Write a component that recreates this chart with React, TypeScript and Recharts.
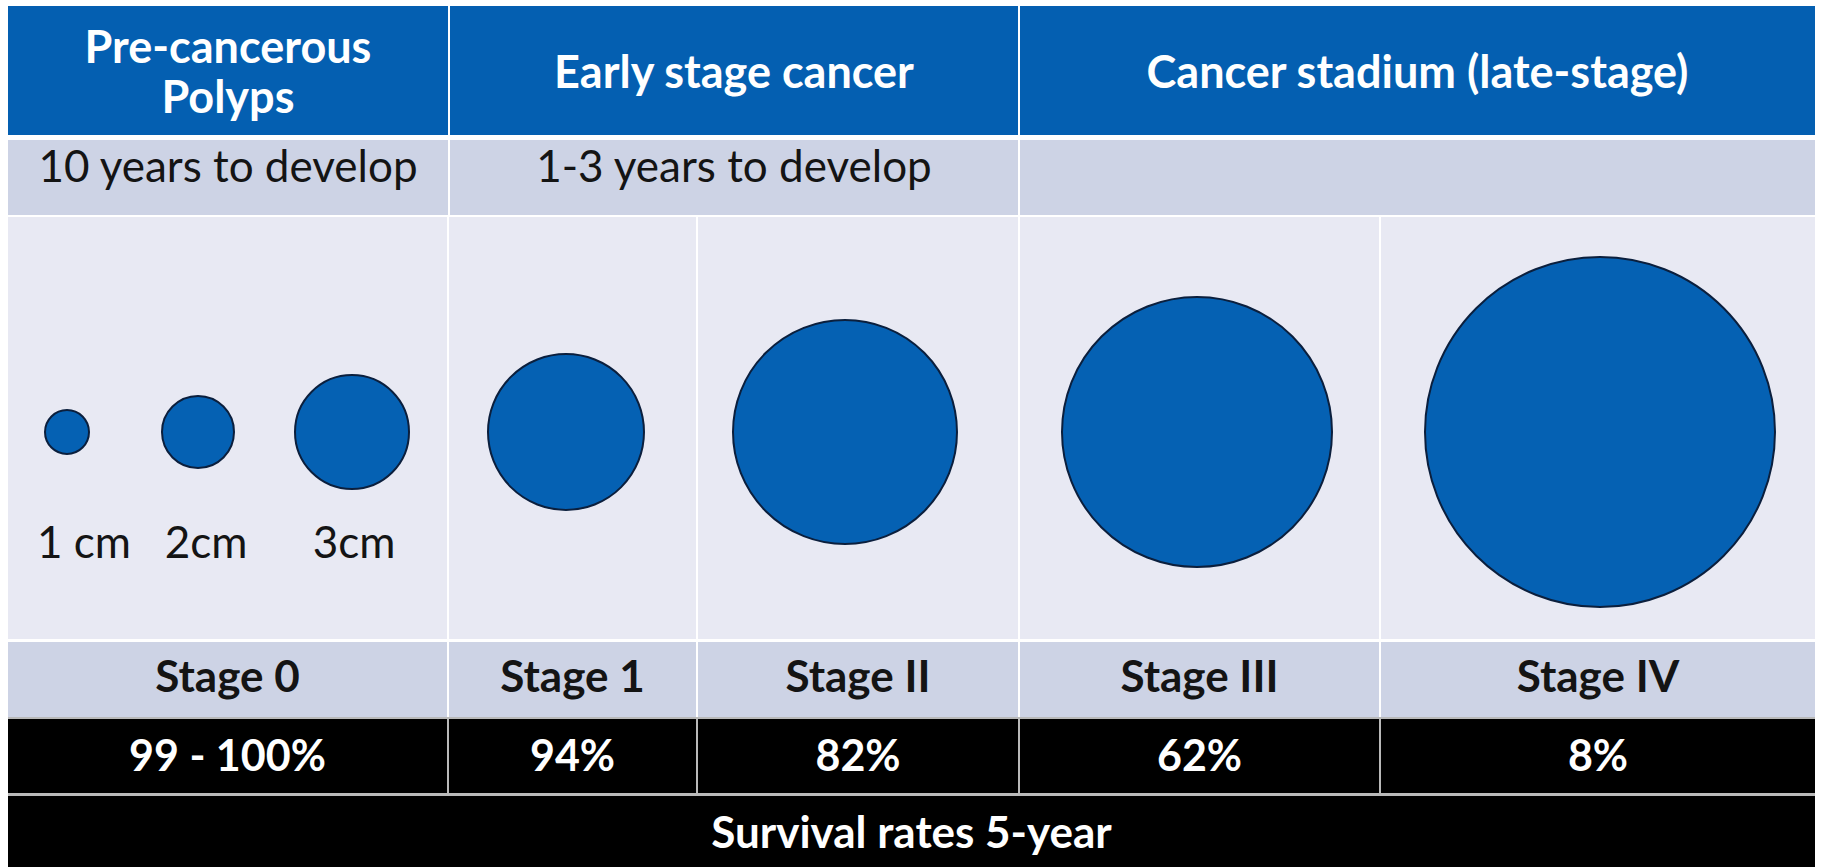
import React from 'react';
import { ScatterChart, Scatter, XAxis, YAxis, ZAxis, ReferenceArea } from 'recharts';

const W = 1823;
const H = 867;

// ---------- data ----------
const groupTitles: string[][] = [['Pre-cancerous', 'Polyps'], ['Early stage cancer'], ['Cancer stadium (late-stage)']];
const developTimes = ['10 years to develop', '1-3 years to develop', ''];
const stageNames = ['Stage 0', 'Stage 1', 'Stage II', 'Stage III', 'Stage IV'];
const survivalRates = ['99 - 100%', '94%', '82%', '62%', '8%'];
const footerTitle = 'Survival rates 5-year';

const tumorNames = ['1 cm', '2cm', '3cm', 'Stage 1', 'Stage II', 'Stage III', 'Stage IV'];
const tumorX = [67, 198, 352, 566, 845, 1197, 1600];
const tumorRadius = [22, 36, 57, 78, 112, 135, 175];
const polypSizeLabels = ['1 cm', '2cm', '3cm'];
const polypSizeLabelX = [84, 206, 354];

// ---------- layout ----------
const groupEdges = [8, 449, 1019, 1815];
const stageEdges = [8, 448, 697, 1019, 1380, 1815];
const rowHeader = [6, 135];
const rowDevelop = [140, 215];
const rowCircles = [217, 639];
const rowStage = [642, 717];
const rowRate = [719, 793];
const rowFooter = [796, 867];
const circleRowY = 432;
const sizeLabelY = 558;

const HEADER_BLUE = '#045FB1';
const LIGHT_ROW = '#CDD3E5';
const PALE_ROW = '#E8E9F3';
const CIRCLE_FILL = '#0561B3';
const CIRCLE_STROKE = '#0B1F3D';
const FONT = 'Lato, "Open Sans", sans-serif';

const cells = (edges: number[]) =>
  edges.slice(0, -1).map((e, i) => [i === 0 ? e : e + 1, i === edges.length - 2 ? edges[i + 1] : edges[i + 1] - 1]);

const makeLabel = (
  lines: string[],
  offsets: number[],
  box: { x1: number; x2: number; y1: number },
  style: { fill: string; size: number; weight: number }
) => (props: any) => {
  const vb = props && props.viewBox && typeof props.viewBox.x === 'number' ? props.viewBox : null;
  const x = vb ? vb.x + vb.width / 2 : (box.x1 + box.x2) / 2;
  const top = vb ? vb.y : box.y1;
  return (
    <text textAnchor="middle" fill={style.fill} fontSize={style.size} fontWeight={style.weight} fontFamily={FONT}>
      {lines.map((l, i) => (
        <tspan key={i} x={x} y={top + offsets[i]}>
          {l}
        </tspan>
      ))}
    </text>
  );
};

const tumorData = tumorNames.map((name, i) => ({ name, x: tumorX[i], y: circleRowY, r: tumorRadius[i] }));
const sizeLabelData = polypSizeLabels.map((label, i) => ({ label, x: polypSizeLabelX[i], y: sizeLabelY, r: 0 }));

const TumorShape = (p: any) => {
  const r = typeof p.size === 'number' ? p.size : p.payload.r;
  return <circle cx={p.cx} cy={p.cy} r={r} fill={CIRCLE_FILL} stroke={CIRCLE_STROKE} strokeWidth={2} />;
};

const SizeLabelShape = (p: any) => (
  <text x={p.cx} y={p.cy} textAnchor="middle" fill="#141414" fontSize={44} fontFamily={FONT}>
    {p.payload.label}
  </text>
);

export default function App() {
  const groupCells = cells(groupEdges);
  const stageCells = cells(stageEdges);
  return (
    <div style={{ width: W, height: H, background: '#fff' }}>
      <style>{'body{margin:0;background:#fff}'}</style>
      <ScatterChart width={W} height={H} margin={{ top: 0, right: 0, bottom: 0, left: 0 }}>
        <XAxis type="number" dataKey="x" domain={[0, W]} allowDataOverflow hide />
        <YAxis type="number" dataKey="y" domain={[0, H]} allowDataOverflow reversed hide />
        <ZAxis type="number" dataKey="r" domain={[0, 200]} range={[0, 200]} />

        {groupCells.map(([x1, x2], i) => (
          <ReferenceArea
            key={'h' + i}
            x1={x1}
            x2={x2}
            y1={rowHeader[0]}
            y2={rowHeader[1]}
            fill={HEADER_BLUE}
            fillOpacity={1}
            label={makeLabel(
              groupTitles[i],
              groupTitles[i].length > 1 ? [57, 107] : [82],
              { x1, x2, y1: rowHeader[0] },
              { fill: '#ffffff', size: 45, weight: 700 }
            )}
          />
        ))}
        {groupCells.map(([x1, x2], i) => (
          <ReferenceArea
            key={'d' + i}
            x1={x1}
            x2={x2}
            y1={rowDevelop[0]}
            y2={rowDevelop[1]}
            fill={LIGHT_ROW}
            fillOpacity={1}
            label={makeLabel([developTimes[i]], [42], { x1, x2, y1: rowDevelop[0] }, { fill: '#141414', size: 44, weight: 400 })}
          />
        ))}
        {stageCells.map(([x1, x2], i) => (
          <ReferenceArea key={'c' + i} x1={x1} x2={x2} y1={rowCircles[0]} y2={rowCircles[1]} fill={PALE_ROW} fillOpacity={1} />
        ))}
        {stageCells.map(([x1, x2], i) => (
          <ReferenceArea
            key={'s' + i}
            x1={x1}
            x2={x2}
            y1={rowStage[0]}
            y2={rowStage[1]}
            fill={LIGHT_ROW}
            fillOpacity={1}
            label={makeLabel([stageNames[i]], [50], { x1, x2, y1: rowStage[0] }, { fill: '#141414', size: 44, weight: 700 })}
          />
        ))}
        <ReferenceArea x1={stageEdges[0]} x2={stageEdges[5]} y1={rowStage[1]} y2={rowFooter[1]} fill="#b9b9b9" fillOpacity={1} />
        {stageCells.map(([x1, x2], i) => (
          <ReferenceArea
            key={'p' + i}
            x1={x1}
            x2={x2}
            y1={rowRate[0]}
            y2={rowRate[1]}
            fill="#000000"
            fillOpacity={1}
            label={makeLabel([survivalRates[i]], [52], { x1, x2, y1: rowRate[0] }, { fill: '#ffffff', size: 43, weight: 700 })}
          />
        ))}
        <ReferenceArea
          x1={stageEdges[0]}
          x2={stageEdges[5]}
          y1={rowFooter[0]}
          y2={rowFooter[1]}
          fill="#000000"
          fillOpacity={1}
          label={makeLabel([footerTitle], [52], { x1: stageEdges[0], x2: stageEdges[5], y1: rowFooter[0] }, { fill: '#ffffff', size: 44, weight: 700 })}
        />

        <Scatter name="Tumour size" data={tumorData} shape={TumorShape} isAnimationActive={false} />
        <Scatter name="Polyp size" data={sizeLabelData} shape={SizeLabelShape} isAnimationActive={false} />
      </ScatterChart>
    </div>
  );
}
